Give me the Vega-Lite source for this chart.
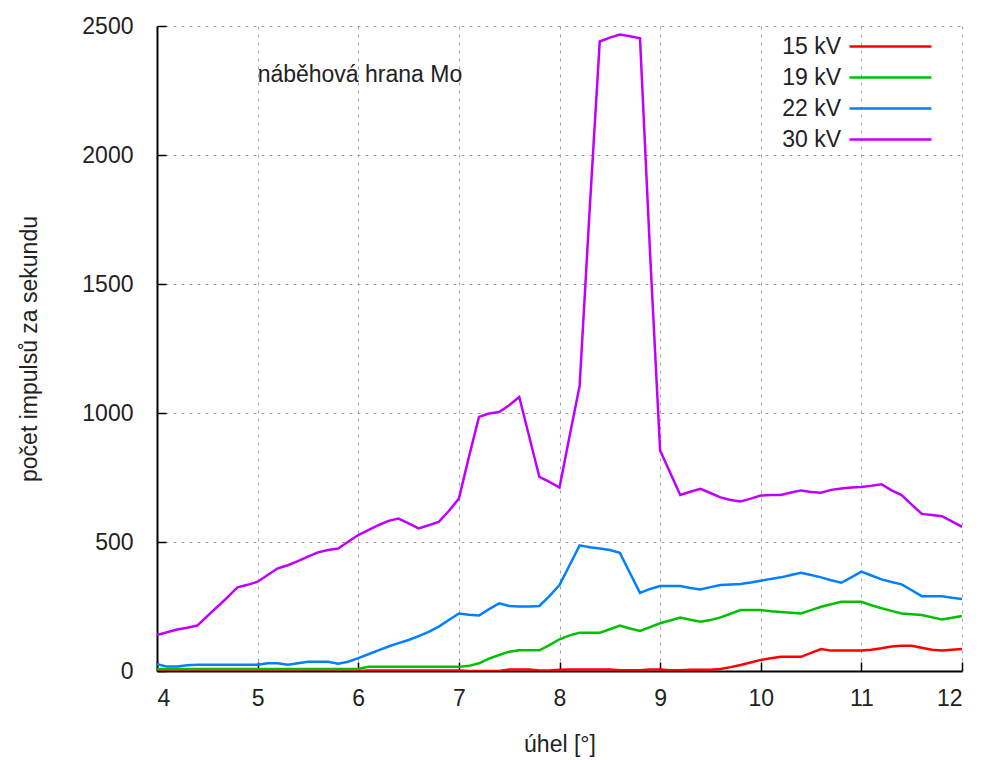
{
  "$schema": "https://vega.github.io/schema/vega-lite/v6.json",
  "width": 805,
  "height": 645,
  "autosize": {"type": "none"},
  "padding": {"left": 157, "top": 26, "right": 19, "bottom": 89},
  "background": "white",
  "config": {
    "font": "Liberation Sans",
    "view": {"stroke": null},
    "axis": {
      "labelFont": "Liberation Sans",
      "titleFont": "Liberation Sans",
      "labelFontSize": 23,
      "titleFontSize": 23,
      "labelColor": "#222222",
      "titleColor": "#222222",
      "titleFontWeight": "normal",
      "domainColor": "#000000",
      "domainWidth": 2,
      "tickColor": "#000000",
      "tickWidth": 1.5,
      "tickSize": -9,
      "gridColor": "#a0a0a0",
      "gridDash": [3, 5],
      "gridWidth": 1
    },
    "legend": {
      "labelFont": "Liberation Sans",
      "labelFontSize": 23,
      "labelColor": "#222222"
    }
  },
  "layer": [
    {
      "data": {
        "values": [
          {"u": 4.0, "15 kV": 0, "19 kV": 8, "22 kV": 26, "30 kV": 139},
          {"u": 4.1, "15 kV": 0, "19 kV": 8, "22 kV": 17, "30 kV": 150},
          {"u": 4.2, "15 kV": 0, "19 kV": 8, "22 kV": 17, "30 kV": 161},
          {"u": 4.3, "15 kV": 0, "19 kV": 8, "22 kV": 22, "30 kV": 168},
          {"u": 4.4, "15 kV": 0, "19 kV": 8, "22 kV": 24, "30 kV": 176},
          {"u": 4.5, "15 kV": 0, "19 kV": 8, "22 kV": 24, "30 kV": 213},
          {"u": 4.6, "15 kV": 0, "19 kV": 8, "22 kV": 24, "30 kV": 249},
          {"u": 4.7, "15 kV": 0, "19 kV": 8, "22 kV": 24, "30 kV": 285},
          {"u": 4.8, "15 kV": 0, "19 kV": 8, "22 kV": 24, "30 kV": 324},
          {"u": 4.9, "15 kV": 0, "19 kV": 8, "22 kV": 24, "30 kV": 334},
          {"u": 5.0, "15 kV": 3, "19 kV": 8, "22 kV": 24, "30 kV": 346},
          {"u": 5.1, "15 kV": 3, "19 kV": 8, "22 kV": 30, "30 kV": 372},
          {"u": 5.2, "15 kV": 0, "19 kV": 8, "22 kV": 30, "30 kV": 398},
          {"u": 5.3, "15 kV": 0, "19 kV": 8, "22 kV": 24, "30 kV": 410},
          {"u": 5.4, "15 kV": 0, "19 kV": 8, "22 kV": 30, "30 kV": 426},
          {"u": 5.5, "15 kV": 0, "19 kV": 8, "22 kV": 36, "30 kV": 443},
          {"u": 5.6, "15 kV": 0, "19 kV": 8, "22 kV": 36, "30 kV": 460},
          {"u": 5.7, "15 kV": 0, "19 kV": 8, "22 kV": 36, "30 kV": 469},
          {"u": 5.8, "15 kV": 5, "19 kV": 8, "22 kV": 28, "30 kV": 475},
          {"u": 5.9, "15 kV": 5, "19 kV": 8, "22 kV": 36, "30 kV": 501},
          {"u": 6.0, "15 kV": 0, "19 kV": 8, "22 kV": 50, "30 kV": 527},
          {"u": 6.1, "15 kV": 2, "19 kV": 16, "22 kV": 65, "30 kV": 546},
          {"u": 6.2, "15 kV": 2, "19 kV": 16, "22 kV": 80, "30 kV": 565},
          {"u": 6.3, "15 kV": 2, "19 kV": 16, "22 kV": 95, "30 kV": 582},
          {"u": 6.4, "15 kV": 2, "19 kV": 16, "22 kV": 108, "30 kV": 591},
          {"u": 6.5, "15 kV": 2, "19 kV": 16, "22 kV": 120, "30 kV": 572},
          {"u": 6.6, "15 kV": 2, "19 kV": 16, "22 kV": 135, "30 kV": 553},
          {"u": 6.7, "15 kV": 2, "19 kV": 16, "22 kV": 152, "30 kV": 565},
          {"u": 6.8, "15 kV": 2, "19 kV": 16, "22 kV": 172, "30 kV": 578},
          {"u": 6.9, "15 kV": 2, "19 kV": 16, "22 kV": 198, "30 kV": 620},
          {"u": 7.0, "15 kV": 2, "19 kV": 16, "22 kV": 223, "30 kV": 668},
          {"u": 7.1, "15 kV": 0, "19 kV": 20, "22 kV": 218, "30 kV": 830},
          {"u": 7.2, "15 kV": 0, "19 kV": 30, "22 kV": 215, "30 kV": 985},
          {"u": 7.3, "15 kV": 0, "19 kV": 48, "22 kV": 240, "30 kV": 998},
          {"u": 7.4, "15 kV": 0, "19 kV": 62, "22 kV": 262, "30 kV": 1004},
          {"u": 7.5, "15 kV": 6, "19 kV": 75, "22 kV": 252, "30 kV": 1030},
          {"u": 7.6, "15 kV": 6, "19 kV": 80, "22 kV": 250, "30 kV": 1062},
          {"u": 7.7, "15 kV": 6, "19 kV": 80, "22 kV": 250, "30 kV": 907},
          {"u": 7.8, "15 kV": 2, "19 kV": 80, "22 kV": 252, "30 kV": 752},
          {"u": 7.9, "15 kV": 2, "19 kV": 100, "22 kV": 290, "30 kV": 733},
          {"u": 8.0, "15 kV": 5, "19 kV": 123, "22 kV": 333, "30 kV": 711},
          {"u": 8.1, "15 kV": 6, "19 kV": 138, "22 kV": 410, "30 kV": 910},
          {"u": 8.2, "15 kV": 6, "19 kV": 148, "22 kV": 487, "30 kV": 1105},
          {"u": 8.3, "15 kV": 6, "19 kV": 148, "22 kV": 480, "30 kV": 1790},
          {"u": 8.4, "15 kV": 6, "19 kV": 148, "22 kV": 475, "30 kV": 2440},
          {"u": 8.5, "15 kV": 6, "19 kV": 162, "22 kV": 469, "30 kV": 2455},
          {"u": 8.6, "15 kV": 3, "19 kV": 176, "22 kV": 458, "30 kV": 2467},
          {"u": 8.7, "15 kV": 3, "19 kV": 165, "22 kV": 380, "30 kV": 2460},
          {"u": 8.8, "15 kV": 3, "19 kV": 155, "22 kV": 303, "30 kV": 2452},
          {"u": 8.9, "15 kV": 6, "19 kV": 170, "22 kV": 318, "30 kV": 1620},
          {"u": 9.0, "15 kV": 6, "19 kV": 185, "22 kV": 329, "30 kV": 855},
          {"u": 9.1, "15 kV": 3, "19 kV": 196, "22 kV": 329, "30 kV": 768},
          {"u": 9.2, "15 kV": 3, "19 kV": 207, "22 kV": 329, "30 kV": 682},
          {"u": 9.3, "15 kV": 5, "19 kV": 199, "22 kV": 322, "30 kV": 695},
          {"u": 9.4, "15 kV": 5, "19 kV": 191, "22 kV": 316, "30 kV": 706},
          {"u": 9.5, "15 kV": 5, "19 kV": 198, "22 kV": 325, "30 kV": 690},
          {"u": 9.6, "15 kV": 8, "19 kV": 208, "22 kV": 333, "30 kV": 673},
          {"u": 9.7, "15 kV": 15, "19 kV": 222, "22 kV": 335, "30 kV": 663},
          {"u": 9.8, "15 kV": 23, "19 kV": 236, "22 kV": 337, "30 kV": 657},
          {"u": 9.9, "15 kV": 33, "19 kV": 236, "22 kV": 343, "30 kV": 668},
          {"u": 10.0, "15 kV": 43, "19 kV": 236, "22 kV": 350, "30 kV": 680},
          {"u": 10.1, "15 kV": 49, "19 kV": 232, "22 kV": 357, "30 kV": 682},
          {"u": 10.2, "15 kV": 55, "19 kV": 229, "22 kV": 363, "30 kV": 682},
          {"u": 10.3, "15 kV": 55, "19 kV": 226, "22 kV": 372, "30 kV": 692},
          {"u": 10.4, "15 kV": 55, "19 kV": 223, "22 kV": 381, "30 kV": 700},
          {"u": 10.5, "15 kV": 70, "19 kV": 236, "22 kV": 372, "30 kV": 694},
          {"u": 10.6, "15 kV": 85, "19 kV": 249, "22 kV": 363, "30 kV": 691},
          {"u": 10.7, "15 kV": 79, "19 kV": 259, "22 kV": 352, "30 kV": 702},
          {"u": 10.8, "15 kV": 79, "19 kV": 268, "22 kV": 342, "30 kV": 707},
          {"u": 10.9, "15 kV": 79, "19 kV": 268, "22 kV": 363, "30 kV": 711},
          {"u": 11.0, "15 kV": 79, "19 kV": 268, "22 kV": 385, "30 kV": 713},
          {"u": 11.1, "15 kV": 82, "19 kV": 255, "22 kV": 370, "30 kV": 718},
          {"u": 11.2, "15 kV": 88, "19 kV": 243, "22 kV": 355, "30 kV": 724},
          {"u": 11.3, "15 kV": 95, "19 kV": 233, "22 kV": 345, "30 kV": 700},
          {"u": 11.4, "15 kV": 98, "19 kV": 223, "22 kV": 336, "30 kV": 682},
          {"u": 11.5, "15 kV": 98, "19 kV": 220, "22 kV": 313, "30 kV": 645},
          {"u": 11.6, "15 kV": 90, "19 kV": 217, "22 kV": 290, "30 kV": 609},
          {"u": 11.7, "15 kV": 82, "19 kV": 208, "22 kV": 290, "30 kV": 605},
          {"u": 11.8, "15 kV": 79, "19 kV": 200, "22 kV": 290, "30 kV": 600},
          {"u": 11.9, "15 kV": 82, "19 kV": 206, "22 kV": 284, "30 kV": 580},
          {"u": 12.0, "15 kV": 85, "19 kV": 213, "22 kV": 279, "30 kV": 559}
        ]
      },
      "transform": [
        {"fold": ["15 kV", "19 kV", "22 kV", "30 kV"], "as": ["serie", "hodnota"]}
      ],
      "mark": {"type": "line", "strokeWidth": 2.5, "clip": true},
      "encoding": {
        "x": {
          "field": "u", "type": "quantitative",
          "scale": {"domain": [4, 12], "nice": false, "zero": false},
          "axis": {
            "title": "úhel [°]",
            "values": [4, 5, 6, 7, 8, 9, 10, 11, 12],
            "format": "d",
            "labelPadding": 25,
            "titlePadding": 23,
            "grid": true
          }
        },
        "y": {
          "field": "hodnota", "type": "quantitative",
          "scale": {"domain": [0, 2500], "nice": false},
          "axis": {
            "title": "počet impulsů za sekundu",
            "values": [0, 500, 1000, 1500, 2000, 2500],
            "format": "d",
            "labelPadding": 33,
            "titlePadding": 40,
            "grid": true
          }
        },
        "color": {
          "field": "serie", "type": "nominal",
          "scale": {
            "domain": ["15 kV", "19 kV", "22 kV", "30 kV"],
            "range": ["#ff0000", "#00c000", "#0080ff", "#c000ff"]
          },
          "legend": {
            "title": null,
            "orient": "none",
            "legendX": 722,
            "legendY": 9,
            "symbolType": "M-4,0H4",
            "symbolSize": 420,
            "symbolStrokeWidth": 2.5,
            "symbolFillColor": "transparent",
            "labelAlign": "right",
            "labelOffset": -61,
            "rowPadding": 7,
            "padding": 0
          }
        }
      }
    },
    {
      "data": {"values": [{"u": 5.0, "hodnota": 2310, "popis": "náběhová hrana Mo"}]},
      "mark": {"type": "text", "align": "left", "baseline": "middle", "fontSize": 23, "font": "Liberation Sans", "color": "#222222"},
      "encoding": {
        "x": {"field": "u", "type": "quantitative"},
        "y": {"field": "hodnota", "type": "quantitative"},
        "text": {"field": "popis"}
      }
    }
  ]
}
